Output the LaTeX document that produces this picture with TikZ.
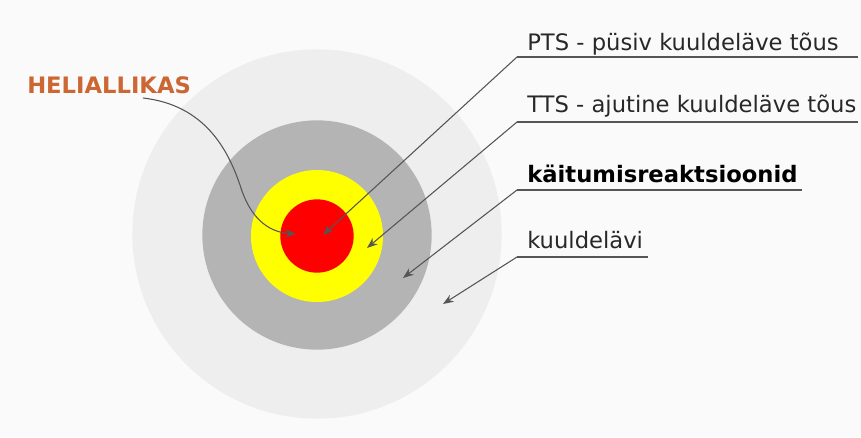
\documentclass[tikz,border=0pt]{standalone}
\usepackage{fontspec}
\setmainfont{DejaVu Sans}
\usetikzlibrary{arrows.meta}

\definecolor{bgcol}{RGB}{250,250,250}
\definecolor{zoneA}{RGB}{238,238,238}
\definecolor{zoneB}{RGB}{180,180,180}
\definecolor{zoneC}{RGB}{255,255,0}
\definecolor{zoneD}{RGB}{255,0,0}
\definecolor{sourcecol}{RGB}{204,102,51}
\definecolor{linecol}{RGB}{85,85,85}
\definecolor{textcol}{RGB}{40,40,40}

\begin{document}
\begin{tikzpicture}[x=0.75pt,y=-0.75pt,
                    ring/.style={circle,inner sep=0pt,draw=none},
                    lbl/.style={anchor=base west,inner sep=0pt,text=textcol,font=\fontsize{17}{20}\selectfont},
                    underline/.style={draw=linecol,line width=0.8pt},
                    pointer/.style={draw=linecol,line width=0.8pt,-{Stealth[length=8pt,width=6pt]}}]
    \useasboundingbox (0,0) rectangle (861,437);
    \fill[bgcol] (0,0) rectangle (861,437);

    % zones, outside in
    \node (Lavi)   [ring,fill=zoneA,minimum size=277pt] at (317,234) {};
    \node (Kaitum) [ring,fill=zoneB,minimum size=172pt] at (317,235) {};
    \node (TTS)    [ring,fill=zoneC,minimum size=99pt]  at (317,236) {};
    \node (PTS)    [ring,fill=zoneD,minimum size=55pt]  at (317,236) {};

    % labels
    \node (PTSlbl) [lbl] at (527,50) {PTS - püsiv kuuldeläve tõus};
    \node (TTSlbl) [lbl] at (527,112) {TTS - ajutine kuuldeläve tõus};
    \node (Kaitlbl) [lbl,text=black,font=\fontsize{17}{20}\selectfont\bfseries] at (527,182) {käitumisreaktsioonid};
    \node (Lavilbl) [lbl] at (527,248) {kuuldelävi};
    \node (Heli) [lbl,text=sourcecol,font=\fontsize{17}{20}\selectfont\bfseries] at (27,93) {HELIALLIKAS};

    \coordinate (PTSa) at (517,57);   \coordinate (PTSb) at (858,57);   \coordinate (PTSt) at (323,235);
    \coordinate (TTSa) at (517,122);  \coordinate (TTSb) at (858,122);  \coordinate (TTSt) at (367,248);
    \coordinate (Kaita) at (517,190); \coordinate (Kaitb) at (802,190); \coordinate (Kaitt) at (403,278);
    \coordinate (Lavia) at (517,257); \coordinate (Lavib) at (648,257); \coordinate (Lavit) at (443,304);
    \coordinate (Helia) at (143,98);  \coordinate (Helim) at (240,185); \coordinate (Helit) at (296,234);

    \draw[underline] (PTSa) -- (PTSb);
    \draw[underline] (TTSa) -- (TTSb);
    \draw[underline] (Kaita) -- (Kaitb);
    \draw[underline] (Lavia) -- (Lavib);

    \draw[pointer] (PTSa) -- (PTSt);
    \draw[pointer] (TTSa) -- (TTSt);
    \draw[pointer] (Kaita) -- (Kaitt);
    \draw[pointer] (Lavia) -- (Lavit);
    \draw[pointer] (Helia) .. controls (205,105) and (228,150) .. (Helim)
                           .. controls (250,218) and (268,232) .. (Helit);
\end{tikzpicture}
\end{document}
